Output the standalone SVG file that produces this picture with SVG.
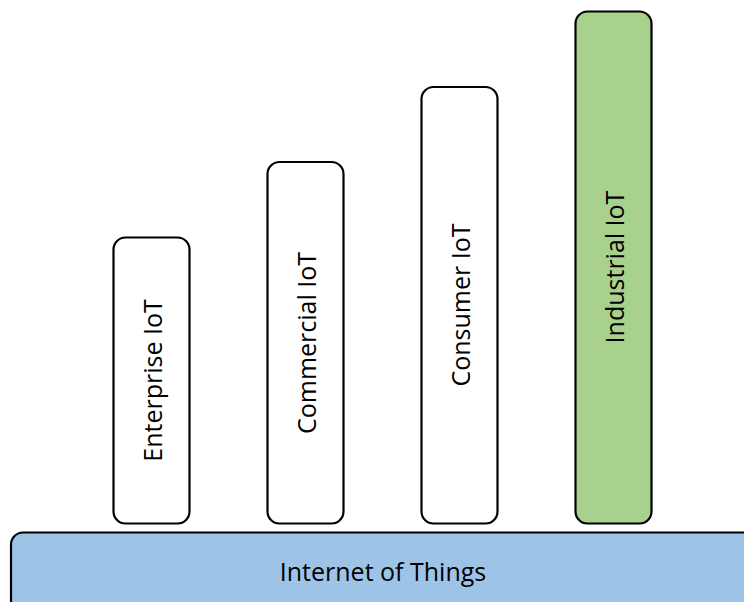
<svg xmlns="http://www.w3.org/2000/svg" width="744" height="602" viewBox="0 0 744 602">
<style>
.box{fill:#ffffff;stroke:#000000;stroke-width:2.2}
.green{fill:#a9d18e}
.blue{fill:#9dc3e6}
.lbl{font-family:"Open Sans","Liberation Sans",sans-serif;font-size:25px;fill:#000000;text-anchor:middle;dominant-baseline:central}
</style>
<rect width="744" height="602" fill="#ffffff"/>
<g id="internet-of-things">
<rect class="box blue" x="11" y="532.5" width="760" height="100" rx="12" ry="12"/>
<text class="lbl" x="383" y="571">Internet of Things</text>
</g>
<g id="enterprise-iot">
<rect class="box" x="113.5" y="237.5" width="76" height="286" rx="12" ry="12"/>
<text class="lbl" transform="translate(151.5,380.5) rotate(-90)" x="0" y="0">Enterprise IoT</text>
</g>
<g id="commercial-iot">
<rect class="box" x="267.5" y="162" width="76" height="361.5" rx="12" ry="12"/>
<text class="lbl" transform="translate(305.5,343) rotate(-90)" x="0" y="0">Commercial IoT</text>
</g>
<g id="consumer-iot">
<rect class="box" x="421.5" y="87" width="76" height="436.5" rx="12" ry="12"/>
<text class="lbl" transform="translate(459.5,305) rotate(-90)" x="0" y="0">Consumer IoT</text>
</g>
<g id="industrial-iot">
<rect class="box green" x="575.5" y="11.5" width="76" height="512" rx="12" ry="12"/>
<text class="lbl" transform="translate(613.5,267) rotate(-90)" x="0" y="0">Industrial IoT</text>
</g>
<g id="connectors"></g>
</svg>
